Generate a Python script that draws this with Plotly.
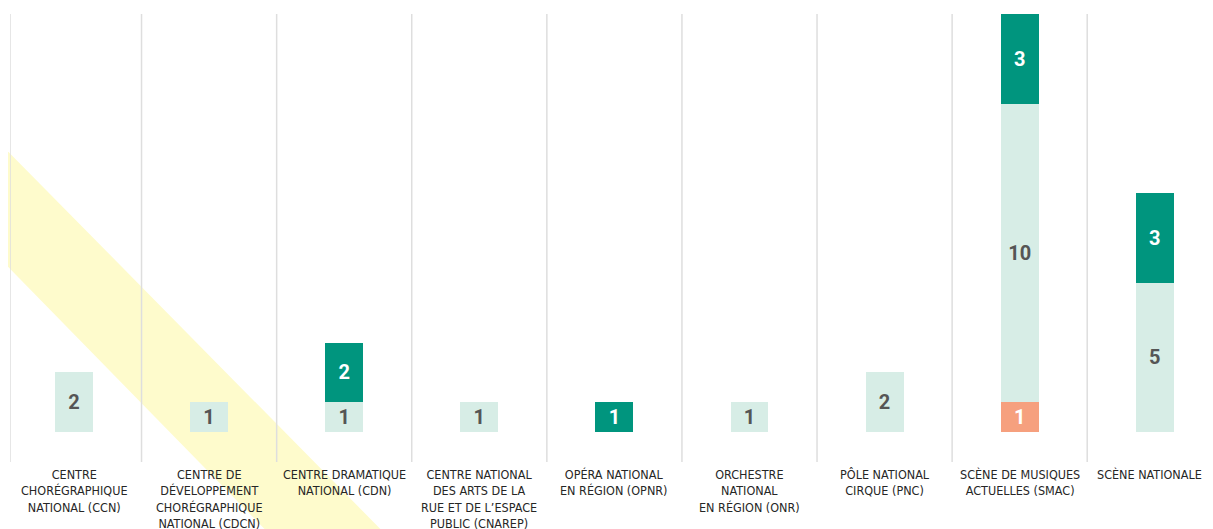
import plotly.graph_objects as go

categories = [
    "CENTRE<br>CHORÉGRAPHIQUE<br>NATIONAL (CCN)",
    "CENTRE DE<br>DÉVELOPPEMENT<br>CHORÉGRAPHIQUE<br>NATIONAL (CDCN)",
    "CENTRE DRAMATIQUE<br>NATIONAL (CDN)",
    "CENTRE NATIONAL<br>DES ARTS DE LA<br>RUE ET DE L’ESPACE<br>PUBLIC (CNAREP)",
    "OPÉRA NATIONAL<br>EN RÉGION (OPNR)",
    "ORCHESTRE<br>NATIONAL<br>EN RÉGION (ONR)",
    "PÔLE NATIONAL<br>CIRQUE (PNC)",
    "SCÈNE DE MUSIQUES<br>ACTUELLES (SMAC)",
    "SCÈNE NATIONALE",
]
series_orange = [None, None, None, None, None, None, None, 1, None]
series_light = [2, 1, 1, 1, None, 1, 2, 10, 5]
series_dark = [None, None, 2, None, 1, None, None, 3, 3]

ORANGE = "#F6A07E"
LIGHT = "#D7EDE6"
DARK = "#00957E"

xpos = list(range(len(categories)))
BW = 0.281

# page body has an 8px margin: figure is 1205x521 so that it fills the 1213x529 window
FW, FH = 1205, 521
ML, MR, MT, MB = 2, 0, 6, 67

fig = go.Figure()


def add(vals, color, tcolor, name):
    fig.add_trace(go.Bar(
        x=xpos, y=vals, width=BW, name=name,
        marker=dict(color=color, line=dict(width=0)),
        text=[("" if v is None else str(v)) for v in vals],
        textposition="inside", insidetextanchor="middle",
        textangle=0, constraintext="none",
        textfont=dict(family="Roboto", size=20, color=tcolor, weight="bold"),
        hoverinfo="skip",
    ))


add(series_orange, ORANGE, "#FFFFFF", "orange")
add(series_light, LIGHT, "#555555", "light")
add(series_dark, DARK, "#FFFFFF", "dark")

PW = FW - ML - MR
PH = FH - MT - MB


def px(p):  # window pixel -> paper x
    return (p - 8 - ML) / PW


def py(q):  # window pixel -> paper y
    return (FH - MB + 8 - q) / PH


shapes = []
shapes.append(dict(
    type="path", xref="paper", yref="paper", layer="below",
    path=f"M {px(-20)},{py(123)} L {px(-20)},{py(238)} L {px(290)},{py(555)} L {px(406)},{py(555)} Z",
    fillcolor="#FEFBCC", line=dict(width=0),
))
sep_x = [-0.4737] + [i + 0.5 for i in range(len(categories) - 1)]
for sx in sep_x:
    shapes.append(dict(type="line", xref="x", yref="paper", x0=sx, x1=sx, y0=0, y1=1,
                       layer="below", line=dict(color="#DEDEDE", width=1.5)))

annotations = []
for i, c in enumerate(categories):
    annotations.append(dict(
        x=i, y=0, xref="x", yref="paper", xanchor="center", yanchor="top",
        yshift=-3, xshift=(-5 if i == len(categories) - 1 else 0),
        text=c, showarrow=False, align="center",
        font=dict(family="DejaVu Sans Condensed", size=12.5, color="#262626"),
    ))

fig.update_layout(
    width=FW, height=FH,
    barmode="stack", showlegend=False,
    margin=dict(l=ML, r=MR, t=MT, b=MB),
    paper_bgcolor="white", plot_bgcolor="rgba(0,0,0,0)",
    xaxis=dict(range=[-0.4737, 8.431], showgrid=False, zeroline=False,
               showticklabels=False, fixedrange=True),
    yaxis=dict(range=[-1, 14], showgrid=False, zeroline=False,
               showticklabels=False, fixedrange=True),
    shapes=shapes, annotations=annotations,
)

fig.write_html("out.html", config={"displayModeBar": False})
